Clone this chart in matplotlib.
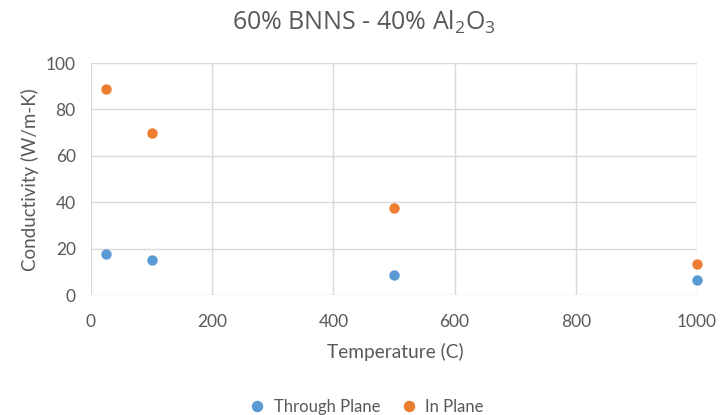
import matplotlib
matplotlib.use("Agg")
import matplotlib.pyplot as plt

# data
temperature = [25, 100, 500, 1000]
through_plane = [17.8, 14.9, 8.7, 6.3]
in_plane = [89, 70, 37.5, 13.5]

BLUE = "#5b9bd5"
ORANGE = "#ed7d31"
GREY = "#595959"
GRID = "#d9d9d9"

plt.rcParams["font.family"] = ["Lato", "DejaVu Sans"]
plt.rcParams["mathtext.fontset"] = "custom"
plt.rcParams["mathtext.rm"] = "Open Sans"

fig = plt.figure(figsize=(7.2, 4.15), dpi=100)
ax = fig.add_axes([91/720, 1-295/415, (697-91)/720, (295-63)/415])

ax.plot(temperature, through_plane, "o", color=BLUE, ms=7.5, mec="none", label="Through Plane", clip_on=False)
ax.plot(temperature, in_plane, "o", color=ORANGE, ms=7.5, mec="none", label="In Plane", clip_on=False)

ax.set_xlim(0, 1000)
ax.set_ylim(0, 100)
ax.set_xticks(range(0, 1001, 200))
ax.set_yticks(range(0, 101, 20))
ax.grid(True, color=GRID, lw=1)
ax.set_axisbelow(True)
for s in ax.spines.values():
    s.set_visible(False)
ax.tick_params(length=0, labelsize=12.5, labelcolor=GREY)
ax.tick_params(axis="x", pad=14)
ax.tick_params(axis="y", pad=11)

fig.text(395/720, 1-352/415, "Temperature (C)", ha="center", va="center", fontsize=13.8, color=GREY)
fig.text(30/720, 1-180/415, "Conductivity (W/m-K)", ha="center", va="center", rotation=90, fontsize=13.5, color=GREY)

fig.text(364/720, 1-22/415, r"60% BNNS - 40% Al$_\mathrm{2}$O$_\mathrm{3}$", ha="center", va="center",
         fontsize=18, color=GREY, family="Open Sans")

fig.legend(loc="center", bbox_to_anchor=(362/720, 1-407/415), ncol=2, frameon=False,
           fontsize=12, labelcolor=GREY, handletextpad=0.0, columnspacing=0.7, markerscale=1.1)

fig.savefig("out.png", dpi=100)
